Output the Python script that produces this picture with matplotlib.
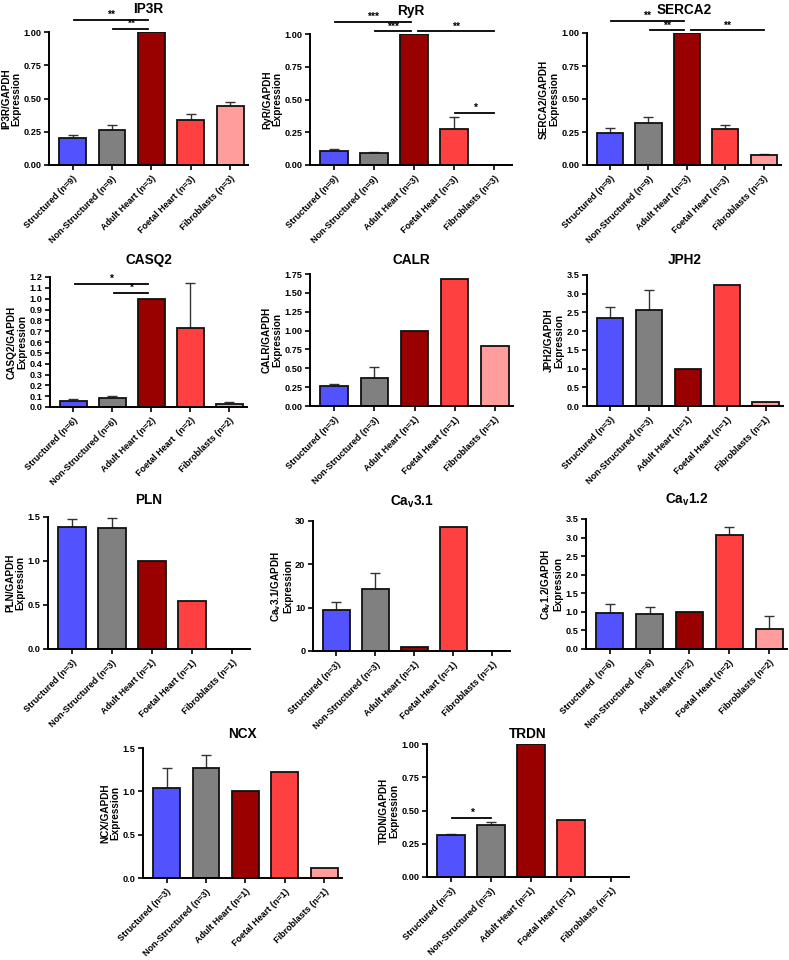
import matplotlib.pyplot as plt
import numpy as np

plt.rcParams['font.family'] = ['Liberation Sans', 'DejaVu Sans']
plt.rcParams['font.weight'] = 'bold'
plt.rcParams['mathtext.fontset'] = 'custom'
plt.rcParams['mathtext.rm'] = 'Liberation Sans:bold'
plt.rcParams['mathtext.bf'] = 'Liberation Sans:bold'
plt.rcParams['mathtext.it'] = 'Liberation Sans:bold'

# groups / tick labels
labels_n9 = ['Structured (n=9)', 'Non-Structured (n=9)', 'Adult Heart (n=3)',
             'Foetal Heart (n=3)', 'Fibroblasts (n=3)']
labels_casq2 = ['Structured (n=6)', 'Non-Structured (n=6)', 'Adult Heart (n=2)',
                'Foetal Heart  (n=2)', 'Fibroblasts (n=2)']
labels_n3 = ['Structured (n=3)', 'Non-Structured (n=3)', 'Adult Heart (n=1)',
             'Foetal Heart (n=1)', 'Fibroblasts (n=1)']
labels_cav12 = ['Structured  (n=6)', 'Non-Structured  (n=6)', 'Adult Heart (n=2)',
                'Foetal Heart (n=2)', 'Fibroblasts (n=2)']

# mean / SEM
ip3r_mean = [0.20, 0.26, 1.00, 0.335, 0.445]
ip3r_sem = [0.025, 0.04, 0, 0.045, 0.03]
ryr_mean = [0.105, 0.09, 1.00, 0.275, 0.0]
ryr_sem = [0.02, 0.01, 0, 0.09, 0]
serca2_mean = [0.245, 0.315, 1.00, 0.27, 0.075]
serca2_sem = [0.035, 0.045, 0, 0.035, 0.01]
casq2_mean = [0.06, 0.08, 1.00, 0.73, 0.03]
casq2_sem = [0.01, 0.02, 0, 0.415, 0.02]
calr_mean = [0.265, 0.375, 1.00, 1.685, 0.80]
calr_sem = [0.03, 0.145, 0, 0, 0]
jph2_mean = [2.35, 2.56, 1.00, 3.24, 0.12]
jph2_sem = [0.30, 0.54, 0, 0, 0]
pln_mean = [1.39, 1.38, 1.00, 0.545, 0.0]
pln_sem = [0.09, 0.11, 0, 0, 0]
cav31_mean = [9.5, 14.4, 1.0, 28.7, 0.0]
cav31_sem = [1.9, 3.7, 0, 0, 0]
cav12_mean = [0.98, 0.95, 1.00, 3.08, 0.53]
cav12_sem = [0.22, 0.18, 0, 0.20, 0.35]
ncx_mean = [1.04, 1.27, 1.00, 1.22, 0.12]
ncx_sem = [0.23, 0.15, 0, 0, 0]
trdn_mean = [0.315, 0.39, 1.00, 0.43, 0.0]
trdn_sem = [0.005, 0.02, 0, 0, 0]

colors = ['#5252ff', '#808080', '#990000', '#ff4040', '#ff9c9c']

# (title, ylabel, mean, sem, labels, yticks, tick format, significance [(i, j, y, text)])
panels = [
    ('IP3R', 'IP3R/GAPDH\nExpression', ip3r_mean, ip3r_sem, labels_n9,
     [0, 0.25, 0.5, 0.75, 1.0], '%.2f',
     [(0, 2, 1.09, '**'), (1, 2, 1.02, '**')]),
    ('RyR', 'RyR/GAPDH\nExpression', ryr_mean, ryr_sem, labels_n9,
     [0, 0.25, 0.5, 0.75, 1.0], '%.2f',
     [(0, 2, 1.09, '***'), (1, 2, 1.02, '***'), (2, 4, 1.02, '**'), (3, 4, 0.40, '*')]),
    ('SERCA2', 'SERCA2/GAPDH\nExpression', serca2_mean, serca2_sem, labels_n9,
     [0, 0.25, 0.5, 0.75, 1.0], '%.2f',
     [(0, 2, 1.09, '**'), (1, 2, 1.02, '**'), (2, 4, 1.02, '**')]),
    ('CASQ2', 'CASQ2/GAPDH\nExpression', casq2_mean, casq2_sem, labels_casq2,
     list(np.arange(0, 1.21, 0.1)), '%.1f',
     [(0, 2, 1.135, '*'), (1, 2, 1.05, '*')]),
    ('CALR', 'CALR/GAPDH\nExpression', calr_mean, calr_sem, labels_n3,
     [0, 0.25, 0.5, 0.75, 1.0, 1.25, 1.5, 1.75], '%.2f', []),
    ('JPH2', 'JPH2/GAPDH\nExpression', jph2_mean, jph2_sem, labels_n3,
     [0, 0.5, 1.0, 1.5, 2.0, 2.5, 3.0, 3.5], '%.1f', []),
    ('PLN', 'PLN/GAPDH\nExpression', pln_mean, pln_sem, labels_n3,
     [0, 0.5, 1.0, 1.5], '%.1f', []),
    (r'Ca$_\mathregular{v}$3.1', 'Ca$_\\mathregular{v}$3.1/GAPDH\nExpression',
     cav31_mean, cav31_sem, labels_n3, [0, 10, 20, 30], '%d', []),
    (r'Ca$_\mathregular{v}$1.2', 'Ca$_\\mathregular{v}$1.2/GAPDH\nExpression',
     cav12_mean, cav12_sem, labels_cav12,
     [0, 0.5, 1.0, 1.5, 2.0, 2.5, 3.0, 3.5], '%.1f', []),
    ('NCX', 'NCX/GAPDH\nExpression', ncx_mean, ncx_sem, labels_n3,
     [0, 0.5, 1.0, 1.5], '%.1f', []),
    ('TRDN', 'TRDN/GAPDH\nExpression', trdn_mean, trdn_sem, labels_n3,
     [0, 0.25, 0.5, 0.75, 1.0], '%.2f', [(0, 1, 0.445, '*')]),
]

# axes boxes in pixels: left, right, top, bottom, title gap
W, H = 789, 960
boxes = [
    (49, 248, 32, 165, 19), (310, 512, 34, 165, 19), (587, 781, 33, 165, 19),
    (50, 247, 277, 407, 13), (310, 513, 274, 406, 10), (587, 783, 275, 406, 11),
    (48, 250, 517, 649, 13), (313, 510, 521, 651, 15), (586, 787, 519, 649, 15),
    (143, 342, 748, 878, 10), (427, 629, 744, 877, 6),
]

fig = plt.figure(figsize=(W / 100, H / 100), dpi=100)

for (title, ylab, mean, sem, labels, yticks, fmt, sig), (l, r, t, b, gap) in zip(panels, boxes):
    ax = fig.add_axes([l / W, 1 - b / H, (r - l) / W, (b - t) / H])
    x = np.arange(len(mean))
    for xi, m, s in zip(x, mean, sem):
        if s > 0:
            ax.errorbar(xi, m, yerr=[[0], [s]], fmt='none', ecolor='#333333',
                        elinewidth=1.0, capsize=3.4, capthick=1.0, zorder=1,
                        clip_on=False)
    ax.bar(x, mean, width=0.68, color=colors, edgecolor='#111111',
           linewidth=1.3, zorder=2)
    ax.set_xlim(-0.6, 4.45)
    ax.set_ylim(0, yticks[-1])
    ax.set_yticks(yticks)
    ax.set_yticklabels([fmt % v for v in yticks])
    ax.set_xticks(x)
    ax.set_xticklabels(labels, rotation=45, ha='right', rotation_mode='anchor')
    ax.tick_params(axis='both', width=1.2, length=3.5, pad=2)
    ax.tick_params(axis='y', labelsize=6.6)
    ax.tick_params(axis='x', labelsize=6.5, pad=3)
    ax.spines['top'].set_visible(False)
    ax.spines['right'].set_visible(False)
    ax.spines['left'].set_linewidth(1.4)
    ax.spines['bottom'].set_linewidth(1.4)
    ax.set_ylabel(ylab, fontsize=7.2, fontweight='bold', labelpad=1.5, linespacing=1.05)
    ax.set_title(title, fontsize=9.8, fontweight='bold', pad=gap * 0.72)
    for i, j, y, txt in sig:
        xa = i + 0.03
        xb = j - 0.08 if j == 2 else j
        if i == 2:
            xa = i + 0.1
        ax.plot([xa, xb], [y, y], color='black', lw=1.3, clip_on=False)
        ax.text((xa + xb) / 2, y, txt, ha='center', va='bottom', fontsize=7.5,
                fontweight='bold', clip_on=False)

fig.savefig('out.png', dpi=100)
